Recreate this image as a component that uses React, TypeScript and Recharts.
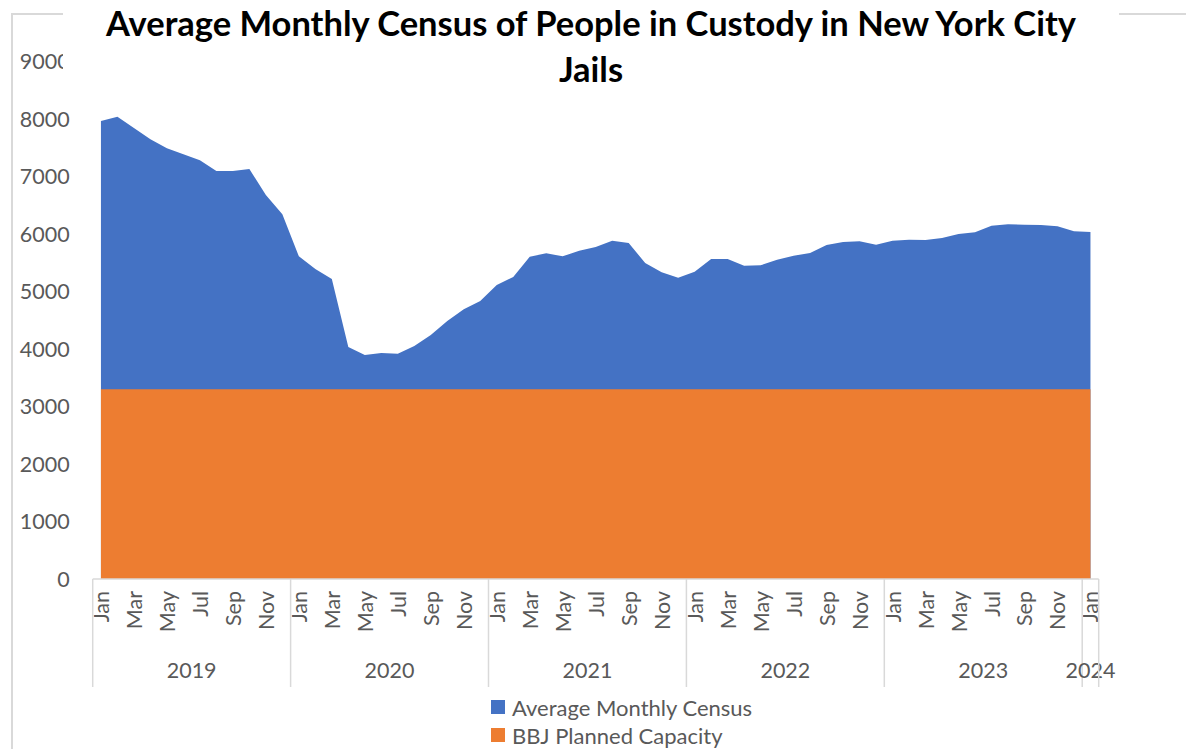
import React from 'react';
import { AreaChart, Area, XAxis, YAxis } from 'recharts';

const years = [2019, 2020, 2021, 2022, 2023, 2024];
const months = ['Jan', 'Feb', 'Mar', 'Apr', 'May', 'Jun', 'Jul', 'Aug', 'Sep', 'Oct', 'Nov', 'Dec'];

// average monthly census, Jan 2019 .. Jan 2024
const census2019 = [7965, 8040, 7845, 7647, 7490, 7386, 7281, 7096, 7096, 7130, 6678, 6342];
const census2020 = [5612, 5391, 5217, 4035, 3896, 3930, 3919, 4052, 4243, 4487, 4690, 4835];
const census2021 = [5113, 5252, 5606, 5664, 5612, 5710, 5774, 5884, 5843, 5496, 5333, 5240];
const census2022 = [5344, 5565, 5565, 5449, 5455, 5553, 5623, 5670, 5809, 5861, 5872, 5814];
const census2023 = [5884, 5901, 5896, 5930, 6000, 6029, 6144, 6168, 6162, 6157, 6134, 6047];
const census2024 = [6035];
const censusByYear = [census2019, census2020, census2021, census2022, census2023, census2024];

const plannedCapacity = 3300;
const yTicks = [0, 1000, 2000, 3000, 4000, 5000, 6000, 7000, 8000, 9000];

const data = years.flatMap((year, yi) =>
  censusByYear[yi].map((v, mi) => ({
    label: `${months[mi]} ${year}`,
    month: months[mi],
    year,
    census: v,
    capacity: plannedCapacity,
  }))
);

const BLUE = '#4472C4';
const ORANGE = '#ED7D31';
const TEXT = '#595959';
const LINE = '#D9D9D9';
const FONT = 'Lato, "Open Sans", sans-serif';
const TICK_FS = 21.5;

const W = 1186;
const H = 749;
const margin = { top: 61.5, right: 87.3, bottom: 60, left: 0 };
const Y_AXIS_W = 92.7;
const X_AXIS_H = 110;
const plotW = W - margin.right - margin.left - Y_AXIS_W;
const band = plotW / data.length;
const axisY = H - margin.bottom - X_AXIS_H;

const MonthTick = (props: any) => {
  const { x, payload } = props;
  const idx = payload.index;
  const d = data[idx];
  const mi = months.indexOf(d.month);
  const parts: React.ReactNode[] = [];
  if (mi % 2 === 0) {
    const ty = axisY + 12;
    parts.push(
      <text
        key="m"
        x={x}
        y={ty}
        transform={`rotate(-90, ${x}, ${ty})`}
        textAnchor="end"
        dominantBaseline="central"
        fill={TEXT}
        fontSize={TICK_FS}
        fontFamily={FONT}
      >
        {d.month}
      </text>
    );
  }
  if (mi === 0) {
    const count = data.filter((r) => r.year === d.year).length;
    const left = x - band / 2;
    parts.push(<line key="s" x1={left} x2={left} y1={axisY} y2={axisY + 108} stroke={LINE} strokeWidth={1.5} />);
    parts.push(
      <text
        key="y"
        x={left + (count * band) / 2}
        y={axisY + 91}
        textAnchor="middle"
        dominantBaseline="central"
        fill={TEXT}
        fontSize={TICK_FS}
        fontFamily={FONT}
      >
        {d.year}
      </text>
    );
  }
  if (idx === data.length - 1) {
    const right = x + band / 2;
    parts.push(<line key="e" x1={right} x2={right} y1={axisY} y2={axisY + 108} stroke={LINE} strokeWidth={1.5} />);
  }
  return <g>{parts}</g>;
};

const legendItems = [
  { name: 'Average Monthly Census', color: BLUE },
  { name: 'BBJ Planned Capacity', color: ORANGE },
];

export default function App() {
  return (
    <div style={{ position: 'absolute', left: 0, top: 0, width: W, height: H, background: '#fff', fontFamily: FONT }}>
      <div style={{ position: 'absolute', left: 11, top: 13, width: 1.5, height: H - 13, background: LINE }} />
      <div style={{ position: 'absolute', left: 11, top: 13, width: W - 11, height: 1.5, background: LINE }} />
      <AreaChart width={W} height={H} data={data} margin={margin}>
        <XAxis
          dataKey="label"
          interval={0}
          tickLine={false}
          tickSize={0}
          height={X_AXIS_H}
          axisLine={{ stroke: LINE, strokeWidth: 1.5 }}
          padding={{ left: band / 2, right: band / 2 }}
          tick={<MonthTick />}
        />
        <YAxis
          width={Y_AXIS_W}
          domain={[0, 9000]}
          ticks={yTicks}
          axisLine={false}
          tickLine={false}
          tickSize={0}
          tickMargin={23}
          tick={{ fill: TEXT, fontSize: TICK_FS, fontFamily: FONT }}
        />
        <Area
          type="linear"
          dataKey="census"
          name="Average Monthly Census"
          stroke="none"
          fill={BLUE}
          fillOpacity={1}
          isAnimationActive={false}
        />
        <Area
          type="linear"
          dataKey="capacity"
          name="BBJ Planned Capacity"
          stroke="none"
          fill={ORANGE}
          fillOpacity={1}
          isAnimationActive={false}
        />
      </AreaChart>
      <div
        style={{
          position: 'absolute',
          left: 63,
          top: 0,
          width: 1056,
          height: 80,
          background: '#fff',
          textAlign: 'center',
          fontWeight: 700,
          fontSize: 34.5,
          lineHeight: '46px',
          color: '#000',
        }}
      >
        Average Monthly Census of People in Custody in New York City
        <br />
        Jails
      </div>
      <div style={{ position: 'absolute', left: 491, top: 693 }}>
        {legendItems.map((it) => (
          <div key={it.name} style={{ display: 'flex', alignItems: 'center', height: 28 }}>
            <span style={{ width: 14, height: 14, background: it.color, display: 'inline-block', marginRight: 7 }} />
            <span style={{ fontSize: 22, color: TEXT }}>{it.name}</span>
          </div>
        ))}
      </div>
    </div>
  );
}
